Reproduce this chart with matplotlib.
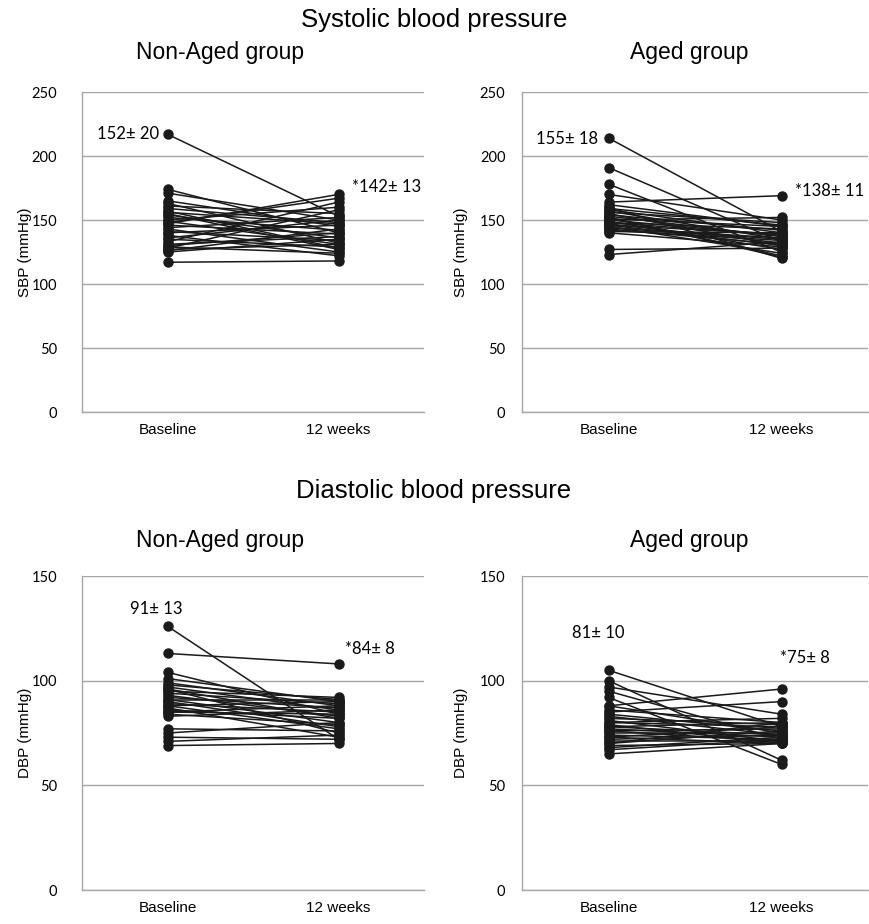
import matplotlib
matplotlib.use("Agg")
import matplotlib.pyplot as plt

# Systolic, non-aged group
sbp_young_base = [217, 174, 171, 165, 163, 161, 159, 157, 156, 154, 152, 150, 149, 147, 146, 144, 143,
                  141, 140, 138, 136, 135, 133, 131, 130, 129, 128, 127, 126, 125, 117, 155, 148]
sbp_young_12w = [153, 140, 150, 145, 132, 155, 148, 128, 147, 136, 142, 160, 131, 170, 139, 152, 125,
                 134, 146, 122, 150, 129, 164, 137, 140, 124, 158, 131, 143, 135, 118, 127, 167]

# Systolic, aged group
sbp_aged_base = [214, 191, 178, 170, 164, 162, 160, 158, 157, 156, 155, 154, 153, 152, 151, 150, 149,
                 148, 147, 146, 145, 144, 143, 142, 141, 140, 127, 123, 159, 152, 148, 146, 150, 144]
sbp_aged_12w = [141, 133, 125, 150, 169, 145, 120, 140, 135, 148, 130, 142, 137, 121, 145, 138, 127,
                143, 132, 139, 124, 136, 131, 134, 140, 129, 128, 133, 146, 122, 138, 130, 152, 135]

# Diastolic, non-aged group
dbp_young_base = [126, 113, 104, 101, 99, 98, 97, 96, 95, 94, 93, 92, 91, 90, 89, 88, 87, 86, 85, 84,
                  83, 77, 75, 73, 71, 69, 96, 91, 88, 85]
dbp_young_12w = [72, 108, 84, 90, 88, 91, 86, 75, 92, 89, 83, 87, 80, 78, 85, 90, 73, 82, 88, 79,
                 86, 76, 80, 72, 74, 70, 82, 91, 77, 84]

# Diastolic, aged group
dbp_aged_base = [105, 100, 97, 95, 92, 88, 86, 85, 84, 83, 82, 81, 80, 79, 78, 77, 76, 75, 74, 73,
                 72, 71, 70, 69, 68, 67, 65, 88, 80, 76, 73, 78, 70]
dbp_aged_12w = [78, 62, 84, 72, 60, 96, 80, 90, 76, 74, 79, 71, 78, 70, 80, 73, 77, 75, 72, 70,
                74, 71, 76, 70, 73, 72, 70, 75, 82, 71, 78, 74, 80]

time_labels = ["Baseline", "12 weeks"]

W, H = 869, 924
fig = plt.figure(figsize=(W / 100, H / 100), dpi=100)

SANS = "Liberation Sans"
NUM = "Lato"
GRID = "#a6a6a6"


def px_axes(left, top, right, bottom):
    return fig.add_axes([left / W, 1 - bottom / H, (right - left) / W, (bottom - top) / H])


def panel(ax, base, wk, ymax, ystep, ylabel, ypad, notes):
    for b, w in zip(base, wk):
        ax.plot([0, 1], [b, w], color="#1a1a1a", lw=1.1, marker="o", ms=6.5,
                mfc="#1a1a1a", mec="#1a1a1a", solid_capstyle="butt")
    ax.set_xlim(-0.5, 1.5)
    ax.set_ylim(0, ymax)
    ax.set_yticks(range(0, ymax + 1, ystep))
    ax.set_xticks([0, 1])
    ax.set_xticklabels(time_labels, fontsize=11, family=SANS)
    for t in ax.get_yticklabels():
        t.set_fontfamily(NUM)
        t.set_fontsize(10.5)
    ax.tick_params(length=0)
    ax.tick_params(axis="y", pad=ypad)
    ax.tick_params(axis="x", pad=8)
    ax.grid(axis="y", color=GRID, lw=1)
    ax.set_axisbelow(True)
    for s in ["top", "right"]:
        ax.spines[s].set_visible(False)
    for s in ["left", "bottom"]:
        ax.spines[s].set_color(GRID)
        ax.spines[s].set_linewidth(1)
    ax.set_ylabel(ylabel, fontsize=11, family=SANS)
    ax.yaxis.set_label_coords(-0.145 if ypad > 14 else -0.155, 0.5)
    for x, y, s in notes:
        ax.text(x, y, s, ha="left", va="center", fontsize=12, family=NUM)


ax1 = px_axes(82, 92, 424, 412)
ax2 = px_axes(522, 92, 868, 412)
ax3 = px_axes(82, 576, 424, 890)
ax4 = px_axes(522, 576, 868, 890)

panel(ax1, sbp_young_base, sbp_young_12w, 250, 50, "SBP (mmHg)", 18,
      [(-0.41, 217, "152± 20"), (1.08, 176, "*142± 13")])
panel(ax2, sbp_aged_base, sbp_aged_12w, 250, 50, "SBP (mmHg)", 12,
      [(-0.42, 213, "155± 18"), (1.08, 173, "*138± 11")])
panel(ax3, dbp_young_base, dbp_young_12w, 150, 50, "DBP (mmHg)", 18,
      [(-0.22, 134, "91± 13"), (1.04, 115, "*84± 8")])
panel(ax4, dbp_aged_base, dbp_aged_12w, 150, 50, "DBP (mmHg)", 12,
      [(-0.21, 123, "81± 10"), (0.99, 111, "*75± 8")])

fig.text(434 / W, 1 - 20 / H, "Systolic blood pressure", ha="center", va="center",
         fontsize=18.5, family=SANS)
fig.text(220 / W, 1 - 52 / H, "Non-Aged group", ha="center", va="center", fontsize=16.5, family=SANS)
fig.text(689 / W, 1 - 52 / H, "Aged group", ha="center", va="center", fontsize=16.5, family=SANS)
fig.text(434 / W, 1 - 491 / H, "Diastolic blood pressure", ha="center", va="center",
         fontsize=18.5, family=SANS)
fig.text(220 / W, 1 - 541 / H, "Non-Aged group", ha="center", va="center", fontsize=16.5, family=SANS)
fig.text(689 / W, 1 - 541 / H, "Aged group", ha="center", va="center", fontsize=16.5, family=SANS)

fig.savefig("out.png", dpi=100)
